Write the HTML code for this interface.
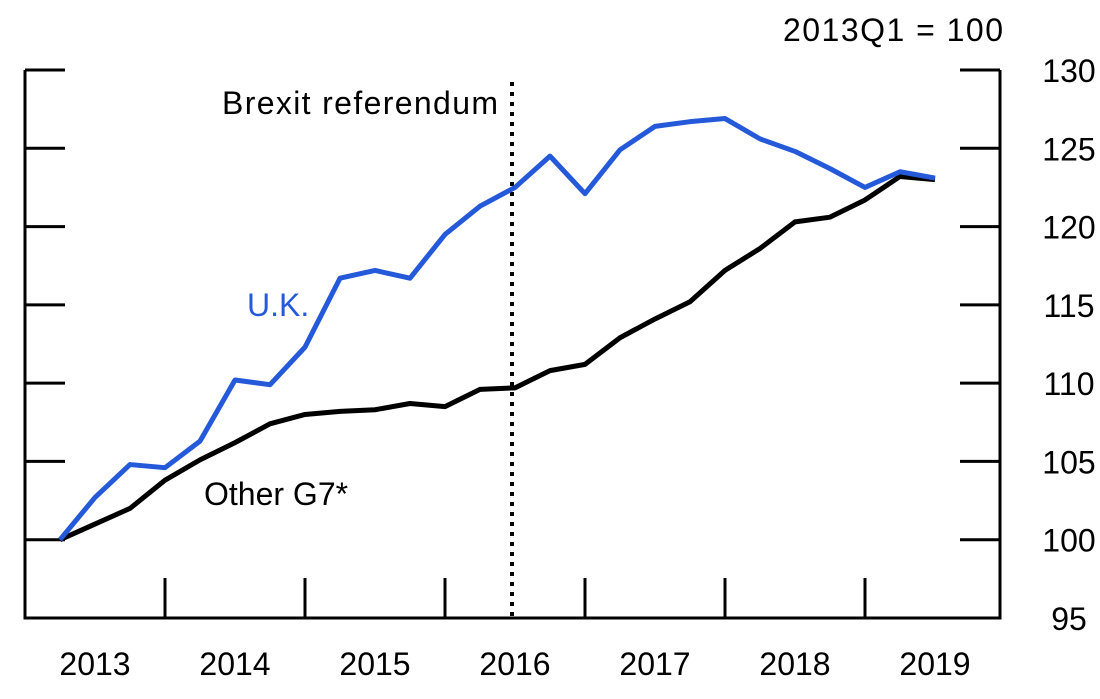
<!DOCTYPE html>
<html><head><meta charset="utf-8"><style>
body{margin:0;background:#fff;}
svg{display:block;font-family:"Liberation Sans",Arial,sans-serif;}
</style></head><body>
<svg id="c" width="1100" height="699"></svg>
<script>
const quarters = ["2013Q1","2013Q2","2013Q3","2013Q4","2014Q1","2014Q2","2014Q3","2014Q4","2015Q1","2015Q2","2015Q3","2015Q4","2016Q1","2016Q2","2016Q3","2016Q4","2017Q1","2017Q2","2017Q3","2017Q4","2018Q1","2018Q2","2018Q3","2018Q4","2019Q1","2019Q2"];
const ukValues = [100,102.7,104.8,104.6,106.3,110.2,109.9,112.3,116.7,117.2,116.7,119.5,121.3,122.5,124.5,122.1,124.9,126.4,126.7,126.9,125.6,124.8,123.7,122.5,123.5,123.1];
const g7Values = [100,101,102,103.8,105.1,106.2,107.4,108.0,108.2,108.3,108.7,108.5,109.6,109.7,110.8,111.2,112.9,114.1,115.2,117.2,118.6,120.3,120.6,121.7,123.2,123.0];
const yTicks = [95,100,105,110,115,120,125,130];
const years = ["2013","2014","2015","2016","2017","2018","2019"];
const brexitIndex = 13;

const svg = document.getElementById('c');
const NS = 'http://www.w3.org/2000/svg';
const L=25,R=1000,T=70,B=618;
const x = i => L + 35*(i+1);
const y = v => T + (130-v)/(35)*(B-T);
function mk(tag, attrs, parent){const e=document.createElementNS(NS,tag);for(const k in attrs)e.setAttribute(k,attrs[k]);(parent||svg).appendChild(e);return e;}

const frame = mk('path',{d:`M${L} ${T}V${B}H${R}V${T}`,fill:'none',stroke:'#000','stroke-width':3});



yTicks.forEach(v=>{
  const t1 = mk('line',{x1:L,x2:L+40,y1:y(v),y2:y(v),stroke:'#000','stroke-width':3});
  
  
  const t2 = mk('line',{x1:R-40,x2:R,y1:y(v),y2:y(v),stroke:'#000','stroke-width':3});
  
  
  const lb = mk('text',{x:1069,y:y(v)+12,'font-size':32,'text-anchor':'middle'});
  lb.textContent = v;
  
  
});

years.forEach((yr,k)=>{
  const tx = L + 140*k;
  if(k>0){
    const t = mk('line',{x1:tx,x2:tx,y1:B-40,y2:B,stroke:'#000','stroke-width':3});
    
    
  }
  const lb = mk('text',{x:tx+70,y:675,'font-size':32,'text-anchor':'middle'});
  lb.textContent = yr;
  
  
});

const unit = mk('text',{x:1003,y:41,'font-size':32,'text-anchor':'end','textLength':220});
unit.textContent='2013Q1 = 100';



const bx = x(brexitIndex)-3;
const bl = mk('line',{x1:bx,x2:bx,y1:82,y2:B,stroke:'#000','stroke-width':4,'stroke-dasharray':'4 6'});


const bt = mk('text',{x:498,y:114,'font-size':32,'text-anchor':'end','textLength':276});
bt.textContent='Brexit referendum';



function line(vals,color,name){
  const p = mk('polyline',{points:vals.map((v,i)=>x(i)+','+y(v)).join(' '),fill:'none',stroke:color,'stroke-width':5,'stroke-linejoin':'round'});
  
  
}
line(g7Values,'#000','other-g7-line');
line(ukValues,'#2459d9','uk-line');

const ul = mk('text',{x:247,y:316,'font-size':32,fill:'#2459d9'});
ul.textContent='U.K.';


const gl = mk('text',{x:204,y:505,'font-size':32});
gl.textContent='Other G7*';


</script>
</body></html>
